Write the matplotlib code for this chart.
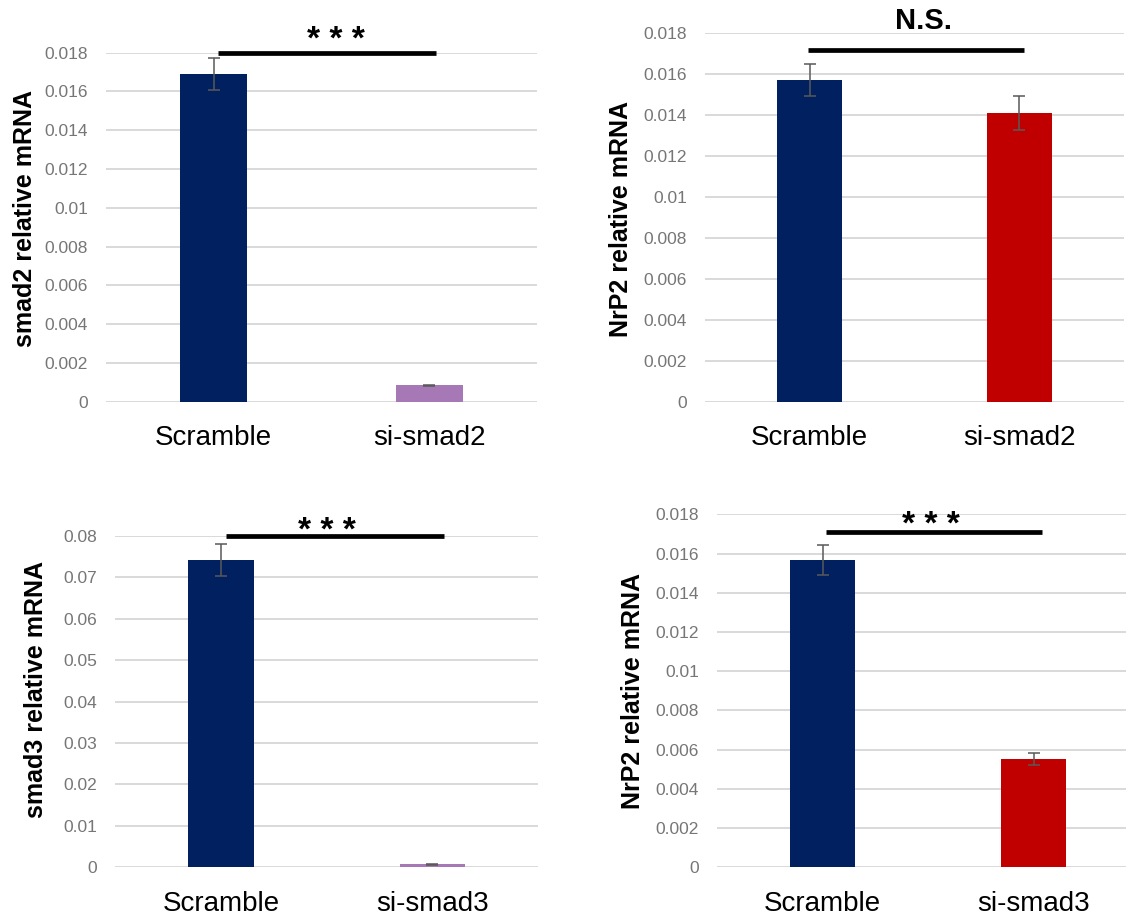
import matplotlib
matplotlib.use("Agg")
import matplotlib.pyplot as plt
from matplotlib.ticker import MultipleLocator, FuncFormatter

plt.rcParams['font.family'] = ['Liberation Sans', 'DejaVu Sans']

W, H = 1126, 919

# data
groups_top = ["Scramble", "si-smad2"]
groups_bottom = ["Scramble", "si-smad3"]

smad2_vals = [0.0169, 0.00085]
smad2_err = [0.00083, 0.00003]

nrp2_top_vals = [0.01572, 0.01411]
nrp2_top_err = [0.0008, 0.00083]

smad3_vals = [0.0742, 0.0007]
smad3_err = [0.0039, 0.0001]

nrp2_bot_vals = [0.01567, 0.00552]
nrp2_bot_err = [0.00078, 0.0003]

navy = "#002060"
purple = "#A678B5"
red = "#C00000"


def px_axes(fig, left, right, top, bottom):
    return fig.add_axes([left / W, 1 - bottom / H, (right - left) / W, (bottom - top) / H])


def fmt(v, pos):
    return f"{round(v, 4):g}"


def panel(ax, cats, vals, errs, colors, ymax, step, ylabel, sig, line_y, line_x, sig_x, sig_off, sig_size):
    x = range(len(cats))
    ax.bar(x, vals, width=0.31, color=colors, zorder=2)
    ax.errorbar(x, vals, yerr=errs, fmt="none", ecolor="#595959", elinewidth=1.1,
                capsize=4, capthick=1.1, zorder=3)
    ax.set_xlim(-0.5, 1.5)
    ax.set_ylim(0, ymax)
    ax.yaxis.set_major_locator(MultipleLocator(step))
    ax.yaxis.set_major_formatter(FuncFormatter(fmt))
    ax.yaxis.grid(True, color="#D9D9D9", linewidth=1.4, zorder=0)
    ax.set_axisbelow(True)
    for s in ax.spines.values():
        s.set_visible(False)
    ax.set_xticks(list(x))
    ax.set_xticklabels(cats, fontsize=20)
    ax.tick_params(axis="x", length=0, pad=17)
    ax.tick_params(axis="y", length=0, pad=13, labelsize=12.5, labelcolor="#767676")
    ax.set_ylabel(ylabel, fontsize=18, fontweight="bold")
    ax.plot(line_x, [line_y, line_y], color="black", linewidth=3.4,
            solid_capstyle="butt", clip_on=False, zorder=4)
    ax.annotate(sig, xy=(sig_x, line_y), xytext=(0, sig_off), textcoords="offset points",
                ha="center", va="baseline", fontsize=sig_size, fontweight="bold",
                annotation_clip=False)


fig = plt.figure(figsize=(W / 100, H / 100), dpi=100)

ax1 = px_axes(fig, 106, 537, 52.7, 401.7)
panel(ax1, groups_top, smad2_vals, smad2_err, [navy, purple], 0.018, 0.002,
      "smad2 relative mRNA", "* * *", 0.018, [0.018, 1.031], 0.565, 2.9, 24)

ax2 = px_axes(fig, 705, 1124, 33.3, 401.7)
panel(ax2, groups_top, nrp2_top_vals, nrp2_top_err, [navy, red], 0.018, 0.002,
      "NrP2 relative mRNA", "N.S.", 0.01718, [-0.006, 1.023], 0.545, 15, 21)

ax3 = px_axes(fig, 115.4, 538, 536, 867.3)
panel(ax3, groups_bottom, smad3_vals, smad3_err, [navy, purple], 0.08, 0.01,
      "smad3 relative mRNA", "* * *", 0.0799, [0.025, 1.055], 0.5, -2.6, 24)

ax4 = px_axes(fig, 717, 1139, 514.3, 867.3)
panel(ax4, groups_bottom, nrp2_bot_vals, nrp2_bot_err, [navy, red], 0.018, 0.002,
      "NrP2 relative mRNA", "* * *", 0.01711, [0.015, 1.040], 0.514, -1.9, 24)

# y label placement (pixel centres from the reference)
for ax, (lx, ly) in zip([ax1, ax2, ax3, ax4], [(25, 218), (621, 219), (36, 690), (633, 691)]):
    inv = ax.transAxes.inverted()
    fx, fy = inv.transform(fig.transFigure.transform((lx / W, 1 - ly / H)))
    ax.yaxis.label.set_visible(False)
    ax.text(fx, fy, ax.get_ylabel(), transform=ax.transAxes, rotation=90,
            ha="center", va="center", fontsize=18, fontweight="bold")

fig.savefig("out.png", dpi=100)
